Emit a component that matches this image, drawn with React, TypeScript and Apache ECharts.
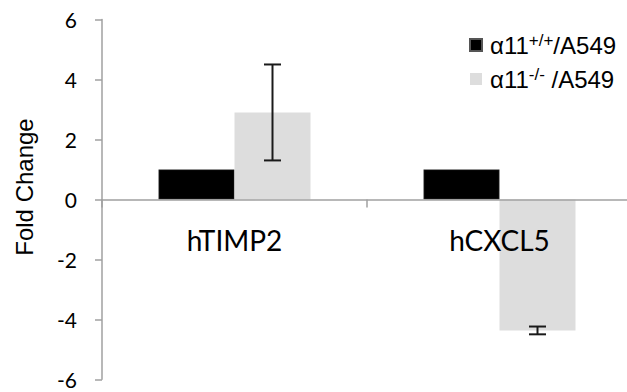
import React, { useEffect, useRef } from "react";
import * as echarts from "echarts";

const categories = ["hTIMP2", "hCXCL5"];
const wtValues = [1, 1];
const koValues = [2.9, -4.37];
const koErrors = [1.6, 0.13];
const yTicks = { min: -6, max: 6, interval: 2 };

const BAR_W = 76;

export default function App() {
  const ref = useRef<HTMLDivElement>(null);
  useEffect(() => {
    document.body.style.margin = "0";
    const chart = echarts.init(ref.current!, undefined, { renderer: "svg" });
    const errData = categories.map((_, i) => [i, koValues[i] - koErrors[i], koValues[i] + koErrors[i]]);
    chart.setOption({
      animation: false,
      backgroundColor: "#ffffff",
      grid: { left: 102, right: -5, top: 19.5, bottom: 12.7, containLabel: false, outerBoundsMode: "none" },
      legend: {
        orient: "vertical",
        left: 464,
        top: 27,
        itemWidth: 12,
        itemHeight: 12,
        itemGap: 8,
        icon: "rect",
        data: ["wt", "ko"],
        formatter: (name: string) =>
          name === "wt" ? "{b|α11}{s|+/+}{b|/A549}" : "{b|α11}{s|-/-}{b| /A549}",
        textStyle: {
          color: "#000",
          fontFamily: "Liberation Sans",
          fontSize: 24,
          padding: [0, 0, 0, 3],
          rich: {
            b: { fontFamily: "Liberation Sans", fontSize: 24, lineHeight: 26, color: "#000" },
            s: { fontFamily: "Liberation Sans", fontSize: 17, lineHeight: 26, verticalAlign: "top", padding: [0, 0, 9, 0], color: "#000" },
          },
        },
      },
      xAxis: {
        type: "category",
        data: categories,
        z: 5,
        axisLine: { show: true, onZero: true, lineStyle: { color: "#a0a0a0", width: 1.5 } },
        axisTick: { show: true, length: 8, lineStyle: { color: "#a0a0a0", width: 1.5 } },
        axisLabel: { fontFamily: "Lato", fontSize: 28, color: "#000", margin: -153 },
      },
      yAxis: {
        type: "value",
        min: yTicks.min,
        max: yTicks.max,
        interval: yTicks.interval,
        axisLine: { show: true, lineStyle: { color: "#a0a0a0", width: 1.5 } },
        axisTick: { show: true, length: 7, lineStyle: { color: "#a0a0a0", width: 1.5 } },
        splitLine: { show: false },
        axisLabel: { fontFamily: "Lato", fontSize: 21, color: "#000", margin: 25 },
      },
      graphic: [
        {
          type: "text",
          x: 24,
          y: 187,
          rotation: Math.PI / 2,
          style: {
            text: "Fold Change",
            fontFamily: "Liberation Sans",
            fontSize: 24,
            fill: "#000",
            align: "center",
            verticalAlign: "middle",
          },
        },
      ],
      series: [
        {
          name: "wt",
          type: "bar",
          data: wtValues,
          barWidth: BAR_W,
          barGap: "0%",
          itemStyle: { color: "#000000", borderColor: "#555", borderWidth: 0.5 },
        },
        {
          name: "ko",
          type: "bar",
          data: koValues,
          barWidth: BAR_W,
          barGap: "0%",
          itemStyle: { color: "#dddddd" },
        },
        {
          name: "err",
          type: "custom",
          coordinateSystem: "cartesian2d",
          z: 10,
          data: errData,
          encode: { x: 0, y: [1, 2] },
          renderItem: (params: any, api: any) => {
            const idx = api.value(0);
            const lo = api.coord([idx, api.value(1)]);
            const hi = api.coord([idx, api.value(2)]);
            const x = lo[0] + BAR_W / 2;
            const cap = 8.5;
            const style = { stroke: "#1a1a1a", lineWidth: 2 };
            return {
              type: "group",
              children: [
                { type: "line", shape: { x1: x, y1: lo[1], x2: x, y2: hi[1] }, style },
                { type: "line", shape: { x1: x - cap, y1: lo[1], x2: x + cap, y2: lo[1] }, style },
                { type: "line", shape: { x1: x - cap, y1: hi[1], x2: x + cap, y2: hi[1] }, style },
              ],
            };
          },
        },
      ],
    });
    return () => chart.dispose();
  }, []);
  return <div ref={ref} style={{ width: 627, height: 392 }} />;
}
